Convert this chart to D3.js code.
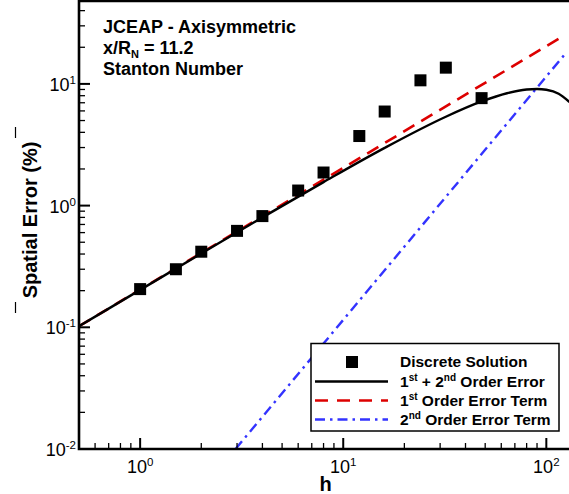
<!DOCTYPE html>
<html lang="en">
<head>
<meta charset="UTF-8">
<title>Spatial Error</title>
<style>
  body { margin: 0; background: #fff; }
  svg { display: block; font-family: "Liberation Sans", Arial, Helvetica, sans-serif; }
</style>
</head>
<body>
<svg id="chart" width="569" height="494"></svg>
<script src="https://d3js.org/d3.v7.min.js"></script>
<script>
// discrete solution points
const hSolution = [1, 1.5, 2, 3, 4, 6, 8, 12, 16, 24, 32, 48];
const errSolution = [0.206, 0.30, 0.418, 0.62, 0.82, 1.33, 1.87, 3.73, 5.93, 10.7, 13.6, 7.64];

// 1st + 2nd order error curve
const hTotal = [0.5, 1, 2, 4, 8, 16, 32, 48, 64, 80, 90, 100, 115, 130];
const errTotal = [0.102, 0.203, 0.404, 0.80, 1.56, 2.98, 5.37, 7.17, 8.38, 9.0, 9.09, 8.95, 8.3, 7.1];

// 1st order term
const hFirst = [0.5, 116];
const errFirst = [0.102, 23.7];

// 2nd order term
const hSecond = [2.95, 125];
const errSecond = [0.01, 18];

const xTickExps = ["0", "1", "2"];
const yTickExps = ["-2", "-1", "0", "1"];

const svg = d3.select("#chart");
const pLeft = 79, pRight = 576, pTop = 1, pBottom = 449;

const x = d3.scaleLog().domain([0.5, 140]).range([pLeft, pRight]);
const y = d3.scaleLog().domain([0.01, 48]).range([pBottom, pTop]);

svg.append("defs").append("clipPath").attr("id", "plotclip")
    .append("rect")
    .attr("x", pLeft).attr("y", pTop)
    .attr("width", pRight - pLeft).attr("height", pBottom - pTop);

const plot = svg.append("g").attr("clip-path", "url(#plotclip)");

const line = d3.line()
    .x(d => x(d[0]))
    .y(d => y(d[1]))
    .curve(d3.curveMonotoneX);

plot.append("path")
    .datum(d3.zip(hSecond, errSecond))
    .attr("d", line)
    .attr("fill", "none")
    .attr("stroke", "#3333ff")
    .attr("stroke-width", 2.4)
    .attr("stroke-dasharray", "10,5,2.5,5");

plot.append("path")
    .datum(d3.zip(hFirst, errFirst))
    .attr("d", line)
    .attr("fill", "none")
    .attr("stroke", "#dd0000")
    .attr("stroke-width", 2.6)
    .attr("stroke-dasharray", "13,8");

plot.append("path")
    .datum(d3.zip(hTotal, errTotal))
    .attr("d", line)
    .attr("fill", "none")
    .attr("stroke", "#000")
    .attr("stroke-width", 2.4);

const sq = 12;
plot.selectAll(".pt")
    .data(d3.zip(hSolution, errSolution))
    .enter()
    .append("rect")
    .attr("class", "pt")
    .attr("x", d => x(d[0]) - sq / 2)
    .attr("y", d => y(d[1]) - sq / 2)
    .attr("width", sq)
    .attr("height", sq)
    .attr("fill", "#000");

// ticks
function minorTicks(scale) {
    const [a, b] = scale.domain();
    const out = [];
    for (let e = -3; e <= 3; e++) {
        for (let k = 2; k <= 9; k++) {
            const v = k * Math.pow(10, e);
            if (v > a * 1.0001 && v < b * 0.9999) out.push(v);
        }
    }
    return out;
}
const xMajor = xTickExps.map(e => Math.pow(10, +e));
const yMajor = yTickExps.map(e => Math.pow(10, +e));

const ticks = svg.append("g").attr("stroke", "#000").attr("stroke-width", 1.3);
ticks.selectAll(".xminor").data(minorTicks(x)).enter().append("line")
    .attr("x1", d => x(d)).attr("x2", d => x(d))
    .attr("y1", pBottom).attr("y2", pBottom - 6);
ticks.selectAll(".xmajor").data(xMajor).enter().append("line")
    .attr("stroke-width", 2)
    .attr("x1", d => x(d)).attr("x2", d => x(d))
    .attr("y1", pBottom).attr("y2", pBottom - 11);
ticks.selectAll(".yminor").data(minorTicks(y)).enter().append("line")
    .attr("y1", d => y(d)).attr("y2", d => y(d))
    .attr("x1", pLeft).attr("x2", pLeft + 6);
ticks.selectAll(".ymajor").data(yMajor).enter().append("line")
    .attr("stroke-width", 2)
    .attr("y1", d => y(d)).attr("y2", d => y(d))
    .attr("x1", pLeft).attr("x2", pLeft + 11);

// frame
svg.append("path")
    .attr("d", `M${pRight},${pTop}H${pLeft}V${pBottom}H${pRight}`)
    .attr("fill", "none")
    .attr("stroke", "#000")
    .attr("stroke-width", 2.6);

// tick labels
const xLab = svg.append("g").attr("font-size", 18).attr("text-anchor", "middle");
xTickExps.forEach(e => {
    const t = xLab.append("text")
        .attr("x", x(Math.pow(10, +e)))
        .attr("y", 473);
    t.append("tspan").text("10");
    t.append("tspan").attr("dy", -7).attr("font-size", 11.5).text(e);
});
const yLab = svg.append("g").attr("font-size", 18).attr("text-anchor", "end");
yTickExps.forEach(e => {
    const t = yLab.append("text")
        .attr("x", 76)
        .attr("y", y(Math.pow(10, +e)) + 7);
    t.append("tspan").text("10");
    t.append("tspan").attr("dy", -7).attr("font-size", 11.5).text(e);
});

// axis titles
svg.append("text")
    .attr("x", (pLeft + pRight) / 2 - 2)
    .attr("y", 491)
    .attr("text-anchor", "middle")
    .attr("font-size", 20)
    .attr("font-weight", "bold")
    .text("h");

svg.append("text")
    .attr("transform", "translate(37,220) rotate(-90)")
    .attr("text-anchor", "middle")
    .attr("font-size", 20)
    .attr("font-weight", "bold")
    .text("Spatial Error (%)");
svg.append("g").attr("stroke", "#000").attr("stroke-width", 1.2)
    .selectAll("line").data([[302, 313], [127, 138]]).enter().append("line")
    .attr("x1", 15.5).attr("x2", 15.5)
    .attr("y1", d => d[0]).attr("y2", d => d[1]);

// annotation
const note = svg.append("g").attr("font-size", 18).attr("font-weight", "bold");
note.append("text").attr("x", 103).attr("y", 33).text("JCEAP - Axisymmetric");
const n2 = note.append("text").attr("x", 103).attr("y", 54);
n2.append("tspan").text("x/R");
n2.append("tspan").attr("dy", 4).attr("font-size", 11).text("N");
n2.append("tspan").attr("dy", -4).text(" = 11.2");
note.append("text").attr("x", 103).attr("y", 75).text("Stanton Number");

// legend
const legendLabels = [
    [["Discrete Solution", false]],
    [["1", false], ["st", true], [" + 2", false], ["nd", true], [" Order Error", false]],
    [["1", false], ["st", true], [" Order Error Term", false]],
    [["2", false], ["nd", true], [" Order Error Term", false]]
];
const legendRows = [362, 381.5, 400.5, 419.5];

const lg = svg.append("g");
lg.append("rect")
    .attr("x", 311).attr("y", 343.5)
    .attr("width", 248).attr("height", 87.5)
    .attr("fill", "#fff")
    .attr("stroke", "#000")
    .attr("stroke-width", 1.5);

lg.append("rect")
    .attr("x", 352 - sq / 2).attr("y", legendRows[0] - sq / 2)
    .attr("width", sq).attr("height", sq).attr("fill", "#000");
lg.append("line").attr("x1", 315).attr("x2", 388)
    .attr("y1", legendRows[1]).attr("y2", legendRows[1])
    .attr("stroke", "#000").attr("stroke-width", 2.4);
lg.append("line").attr("x1", 315).attr("x2", 388)
    .attr("y1", legendRows[2]).attr("y2", legendRows[2])
    .attr("stroke", "#dd0000").attr("stroke-width", 2.6)
    .attr("stroke-dasharray", "13,9");
lg.append("line").attr("x1", 315).attr("x2", 388)
    .attr("y1", legendRows[3]).attr("y2", legendRows[3])
    .attr("stroke", "#3333ff").attr("stroke-width", 2.4)
    .attr("stroke-dasharray", "10,5,2.5,5");

legendLabels.forEach((parts, i) => {
    const t = lg.append("text")
        .attr("x", 400)
        .attr("y", legendRows[i] + 5)
        .attr("font-size", 15.5)
        .attr("font-weight", "bold");
    let raised = false;
    parts.forEach(([s, sup]) => {
        const ts = t.append("tspan").text(s);
        if (sup && !raised) { ts.attr("dy", -6).attr("font-size", 10); raised = true; }
        else if (sup) { ts.attr("font-size", 10); }
        else if (raised) { ts.attr("dy", 6); raised = false; }
    });
});
</script>
</body>
</html>
